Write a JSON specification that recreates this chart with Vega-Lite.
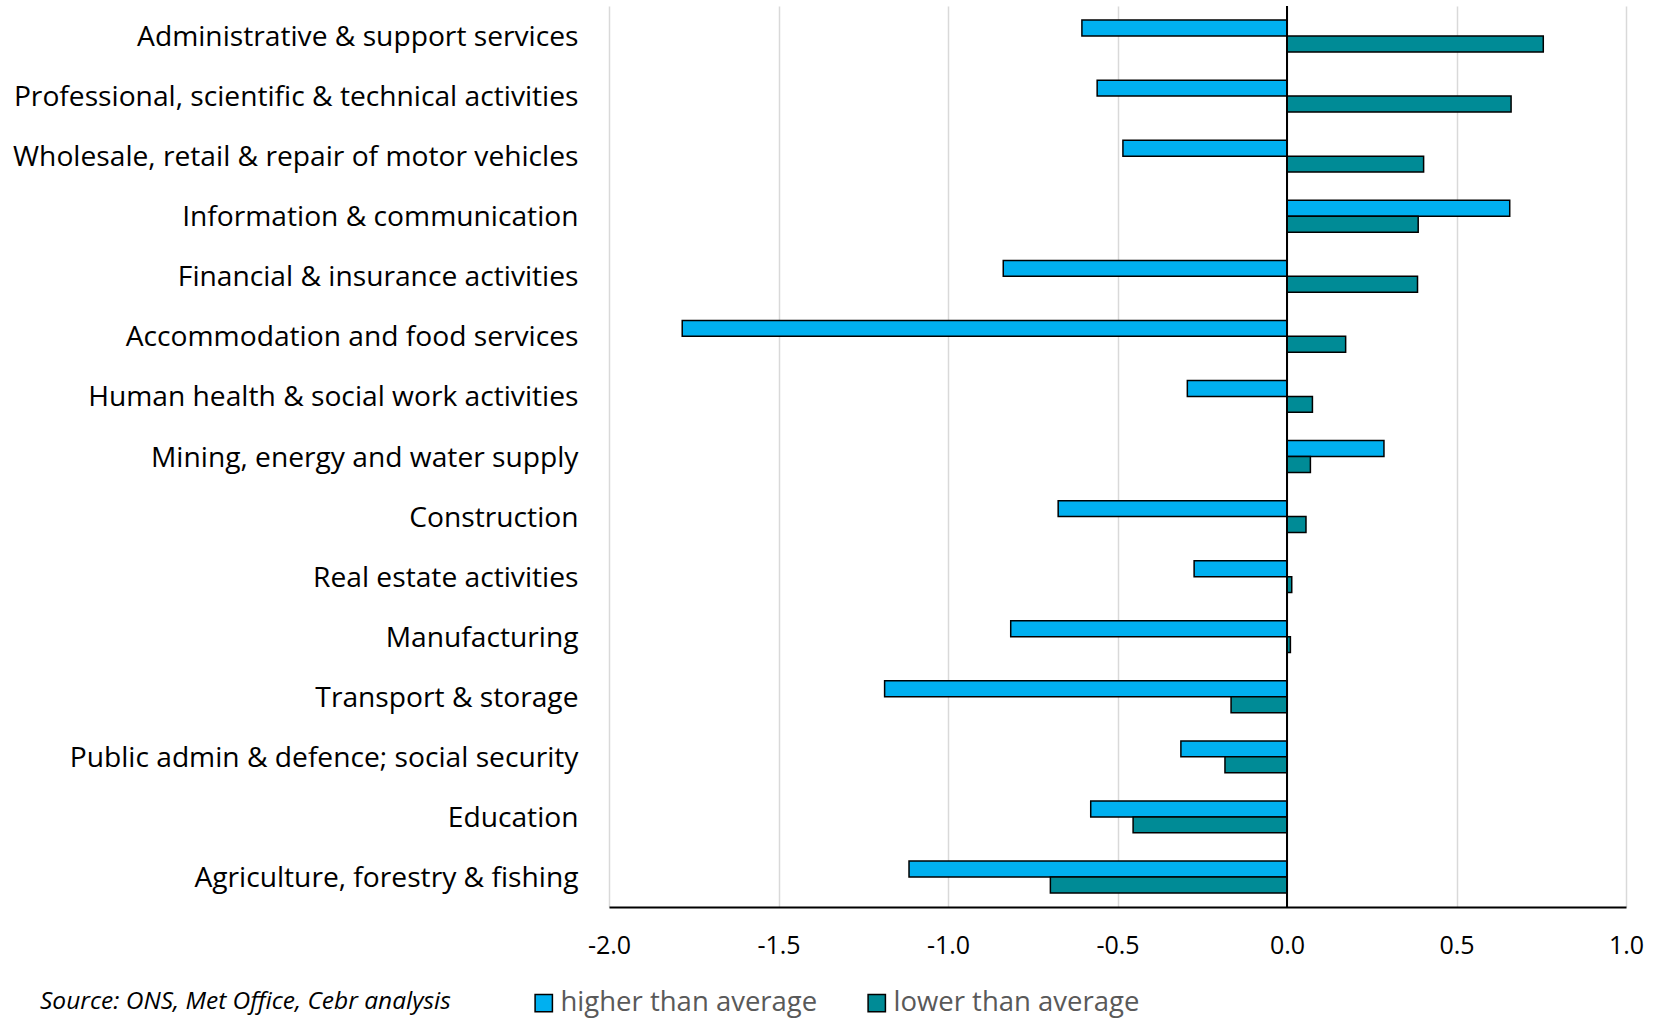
{
  "$schema": "https://vega.github.io/schema/vega-lite/v6.json",
  "autosize": {"type": "none"},
  "width": 1017,
  "height": 901,
  "padding": {"left": 609, "top": 6, "right": 31, "bottom": 114},
  "background": "white",
  "config": {
    "view": {"stroke": null},
    "font": "Open Sans"
  },
  "title": {
    "text": "Source: ONS, Met Office, Cebr analysis",
    "orient": "bottom",
    "anchor": "start",
    "frame": "group",
    "dx": -569,
    "offset": 0,
    "dy": -27,
    "font": "Open Sans",
    "fontSize": 24.5,
    "fontStyle": "italic",
    "fontWeight": "normal",
    "color": "#000000"
  },
  "data": {
    "values": [
      {"sector": "Administrative & support services", "series": "higher than average", "value": -0.605},
      {"sector": "Administrative & support services", "series": "lower than average", "value": 0.756},
      {"sector": "Professional, scientific & technical activities", "series": "higher than average", "value": -0.56},
      {"sector": "Professional, scientific & technical activities", "series": "lower than average", "value": 0.661},
      {"sector": "Wholesale, retail & repair of motor vehicles", "series": "higher than average", "value": -0.484},
      {"sector": "Wholesale, retail & repair of motor vehicles", "series": "lower than average", "value": 0.403},
      {"sector": "Information & communication", "series": "higher than average", "value": 0.657},
      {"sector": "Information & communication", "series": "lower than average", "value": 0.387},
      {"sector": "Financial & insurance activities", "series": "higher than average", "value": -0.837},
      {"sector": "Financial & insurance activities", "series": "lower than average", "value": 0.385},
      {"sector": "Accommodation and food services", "series": "higher than average", "value": -1.784},
      {"sector": "Accommodation and food services", "series": "lower than average", "value": 0.173},
      {"sector": "Human health & social work activities", "series": "higher than average", "value": -0.294},
      {"sector": "Human health & social work activities", "series": "lower than average", "value": 0.075},
      {"sector": "Mining, energy and water supply", "series": "higher than average", "value": 0.286},
      {"sector": "Mining, energy and water supply", "series": "lower than average", "value": 0.069},
      {"sector": "Construction", "series": "higher than average", "value": -0.675},
      {"sector": "Construction", "series": "lower than average", "value": 0.056},
      {"sector": "Real estate activities", "series": "higher than average", "value": -0.274},
      {"sector": "Real estate activities", "series": "lower than average", "value": 0.014},
      {"sector": "Manufacturing", "series": "higher than average", "value": -0.815},
      {"sector": "Manufacturing", "series": "lower than average", "value": 0.01},
      {"sector": "Transport & storage", "series": "higher than average", "value": -1.187},
      {"sector": "Transport & storage", "series": "lower than average", "value": -0.165},
      {"sector": "Public admin & defence; social security", "series": "higher than average", "value": -0.313},
      {"sector": "Public admin & defence; social security", "series": "lower than average", "value": -0.183},
      {"sector": "Education", "series": "higher than average", "value": -0.579},
      {"sector": "Education", "series": "lower than average", "value": -0.454},
      {"sector": "Agriculture, forestry & fishing", "series": "higher than average", "value": -1.115},
      {"sector": "Agriculture, forestry & fishing", "series": "lower than average", "value": -0.698}
    ]
  },
  "layer": [
    {
      "mark": {"type": "bar", "stroke": "#000000", "strokeWidth": 1.5},
      "encoding": {
        "y": {
          "field": "sector",
          "type": "nominal",
          "sort": null,
          "scale": {"paddingInner": 0.47, "paddingOuter": 0.235},
          "axis": {
            "title": null,
            "domain": false,
            "ticks": false,
            "labelFontSize": 28.2,
            "labelColor": "#000000",
            "labelPadding": 31,
            "labelOffset": 2,
            "labelLimit": 700
          }
        },
        "yOffset": {"field": "series", "type": "nominal", "sort": ["higher than average", "lower than average"]},
        "x": {
          "field": "value",
          "type": "quantitative",
          "scale": {"domain": [-2, 1], "nice": false, "zero": false},
          "axis": {
            "title": null,
            "values": [-2, -1.5, -1, -0.5, 0, 0.5, 1],
            "format": ".1f",
            "labelExpr": "replace(datum.label, '−', '-')",
            "labelFlush": false,
            "grid": true,
            "gridColor": "#D9D9D9",
            "gridWidth": 1.5,
            "domain": true,
            "domainColor": "#000000",
            "domainWidth": 2,
            "ticks": false,
            "labelFontSize": 25,
            "labelColor": "#000000",
            "labelPadding": 26
          }
        },
        "fill": {
          "field": "series",
          "type": "nominal",
          "scale": {"domain": ["higher than average", "lower than average"], "range": ["#00B0F0", "#008B96"]},
          "legend": {
            "title": null,
            "orient": "none",
            "legendX": -79,
            "legendY": 983,
            "direction": "horizontal",
            "symbolType": "square",
            "symbolSize": 300,
            "symbolStrokeColor": "#000000",
            "symbolStrokeWidth": 1.5,
            "labelFontSize": 27.5,
            "labelColor": "#595959",
            "labelOffset": 3,
            "labelLimit": 500,
            "columnPadding": 45
          }
        }
      }
    },
    {
      "mark": {"type": "rule", "color": "#000000", "strokeWidth": 2},
      "encoding": {"x": {"datum": 0}}
    }
  ]
}
